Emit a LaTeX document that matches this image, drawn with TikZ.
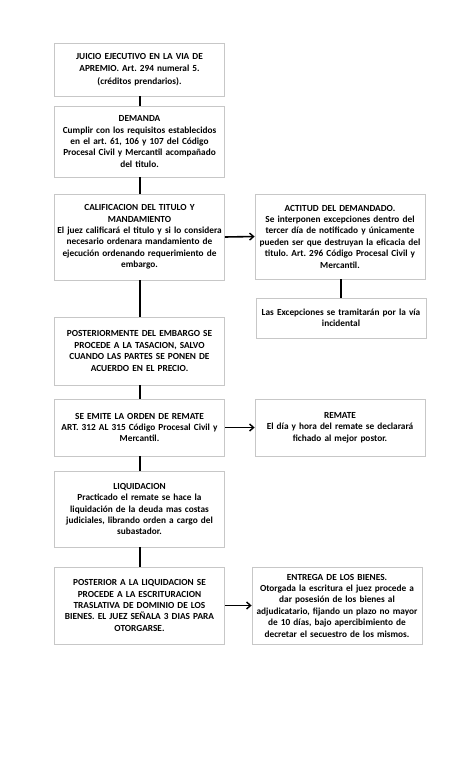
\documentclass[tikz,border=0pt]{standalone}
\usepackage{fontspec}
\setmainfont{Carlito}
\usetikzlibrary{arrows.meta}
\frenchspacing
\begin{document}
\begin{tikzpicture}[x=1pt,y=-1pt,
  box/.style={draw=black!22, line width=0.8pt, fill=white, text width=166pt, inner xsep=2pt, inner ysep=2pt, align=center, font=\fontsize{9.3}{11.4}\selectfont\bfseries\frenchspacing},
  wide/.style={font=\fontsize{9.3}{12.5}\selectfont\bfseries\frenchspacing},
  link/.style={line width=2pt, black},
  arr/.style={line width=1.6pt, black, -{Straight Barb[length=4pt,width=7pt,line width=1.4pt]}}]
\useasboundingbox[fill=white] (0,0) rectangle (474,780);
\node[box, wide, minimum height=53pt] (b1) at (139.5,69.5) {JUICIO EJECUTIVO EN LA VIA DE\\APREMIO. Art. 294 numeral 5.\\(créditos prendarios).};
\node[box, minimum height=71pt] (b2) at (139.5,141.5) {DEMANDA\\Cumplir con los requisitos establecidos\\en el art. 61, 106 y 107 del Código\\Procesal Civil y Mercantil acompañado\\del titulo.};
\node[box, minimum height=86pt] (b3) at (139.5,237) {CALIFICACION DEL TITULO Y\\MANDAMIENTO\\El juez calificará el titulo y si lo considera\\necesario ordenara mandamiento de\\ejecución ordenando requerimiento de\\embargo.};
\node[box, minimum height=85pt] (b4) at (340,236.5) {ACTITUD DEL DEMANDADO.\\Se interponen excepciones dentro del\\tercer día de notificado y únicamente\\pueden ser que destruyan la eficacia del\\titulo. Art. 296 Código Procesal Civil y\\Mercantil.};
\node[box, minimum height=40pt] (b5) at (341,318) {Las Excepciones se tramitarán por la vía\\incidental};
\node[box, minimum height=68pt] (b6) at (139.5,351) {POSTERIORMENTE DEL EMBARGO SE\\PROCEDE A LA TASACION, SALVO\\CUANDO LAS PARTES SE PONEN DE\\ACUERDO EN EL PRECIO.};
\node[box, minimum height=57pt] (b7) at (139.5,427.5) {SE EMITE LA ORDEN DE REMATE\\ART. 312 AL 315 Código Procesal Civil y\\Mercantil.};
\node[box, minimum height=57pt] (b8) at (340,427.5) {REMATE\\El día y hora del remate se declarará\\fichado al mejor postor.};
\node[box, minimum height=76pt] (b9) at (139.5,509) {LIQUIDACION\\Practicado el remate se hace la\\liquidación de la deuda mas costas\\judiciales, librando orden a cargo del\\subastador.};
\node[box, minimum height=77pt] (b10) at (139.5,605.5) {POSTERIOR A LA LIQUIDACION SE\\PROCEDE A LA ESCRITURACION\\TRASLATIVA DE DOMINIO DE LOS\\BIENES. EL JUEZ SEÑALA 3 DIAS PARA\\OTORGARSE.};
\node[box, minimum height=77pt] (b11) at (337,605.5) {ENTREGA DE LOS BIENES.\\Otorgada la escritura el juez procede a\\dar posesión de los bienes al\\adjudicatario, fijando un plazo no mayor\\de 10 días, bajo apercibimiento de\\decretar el secuestro de los mismos.};
\draw[link] (b1.south) -- (b2.north);
\draw[link] (b2.south) -- (b3.north);
\draw[link] (b3.south) -- (b6.north);
\draw[link] (b6.south) -- (b7.north);
\draw[link] (b7.south) -- (b9.north);
\draw[link] (b9.south) -- (b10.north);
\draw[link] (b4.south -| b5.north) -- (b5.north);
\draw[arr] (b3.east) -- (b4.west);
\draw[arr] (b7.east) -- (b8.west);
\draw[arr] (b10.east) -- (b11.west);
\end{tikzpicture}
\end{document}
